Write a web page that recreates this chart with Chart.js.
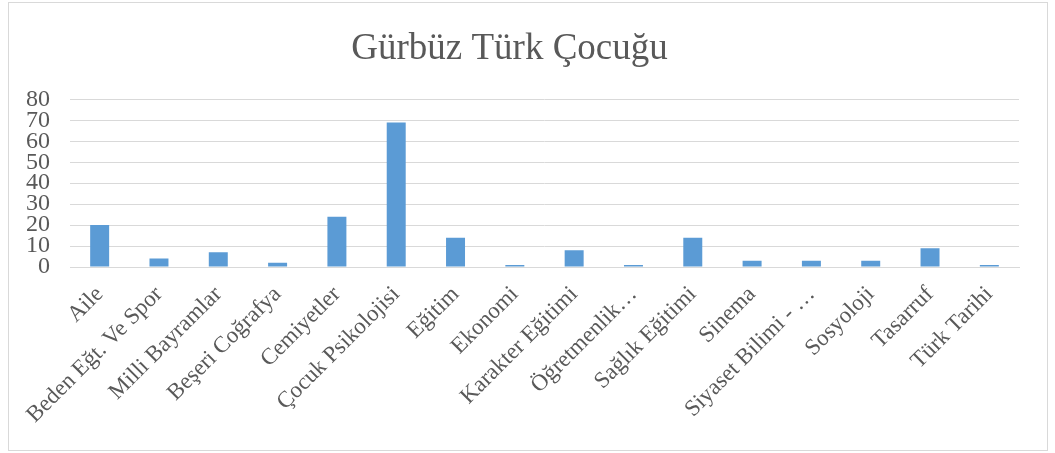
<!DOCTYPE html>
<html><head><meta charset="utf-8">
<script src="https://cdn.jsdelivr.net/npm/chart.js@4/dist/chart.umd.min.js"></script>
<style>
html,body{margin:0;padding:0;background:#fff;}
#wrap{position:relative;width:1055px;height:453px;}
#frame{position:absolute;left:8px;top:2px;width:1040px;height:449px;border:1px solid #d9d9d9;box-sizing:border-box;}
canvas{position:absolute;left:0;top:0;}
</style></head>
<body><div id="wrap"><div id="frame"></div><canvas id="c" width="1055" height="453"></canvas></div>
<script>
const titleText = "Gürbüz Türk Çocuğu";
const categories = ["Aile","Beden Eğt. Ve Spor","Milli Bayramlar","Beşeri Coğrafya","Cemiyetler","Çocuk Psikolojisi","Eğitim","Ekonomi","Karakter Eğitimi","Öğretmenlik…","Sağlık Eğitimi","Sinema","Siyaset Bilimi - …","Sosyoloji","Tasarruf","Türk Tarihi"];
const values = [20,4,7,2,24,69,14,1,8,1,14,3,3,3,9,1];
const yTicks = [0,10,20,30,40,50,60,70,80];

new Chart(document.getElementById('c'), {
  type: 'bar',
  data: { labels: categories, datasets: [{ data: values, backgroundColor: '#5b9bd5', borderWidth: 0, categoryPercentage: 1, barPercentage: 0.32 }] },
  options: {
    responsive: false, animation: false,
    layout: { padding: { left: 0, right: 36, top: 0, bottom: 6 } },
    plugins: {
      legend: { display: false }, tooltip: { enabled: false },
      title: { display: true, text: titleText, color: '#595959', font: { family: 'Liberation Serif', size: 37, weight: 'normal' }, padding: { top: 27, bottom: 28 } }
    },
    scales: {
      x: {
        grid: { display: false, drawTicks: false },
        border: { display: true, color: '#d9d9d9', width: 1 },
        ticks: { color: '#595959', font: { family: 'Liberation Serif', size: 23 }, maxRotation: 45, minRotation: 45, autoSkip: false, padding: 14 },
        afterFit(s) { s.height = 180; }
      },
      y: {
        min: 0, max: 80,
        afterBuildTicks(s) { s.ticks = yTicks.map(v => ({ value: v })); },
        grid: { color: '#d9d9d9', lineWidth: 1, drawTicks: false },
        border: { display: false },
        ticks: { color: '#595959', font: { family: 'Liberation Serif', size: 24 }, padding: 20, autoSkip: false },
        afterFit(s) { s.width = 70; }
      }
    }
  }
});
</script></body></html>
